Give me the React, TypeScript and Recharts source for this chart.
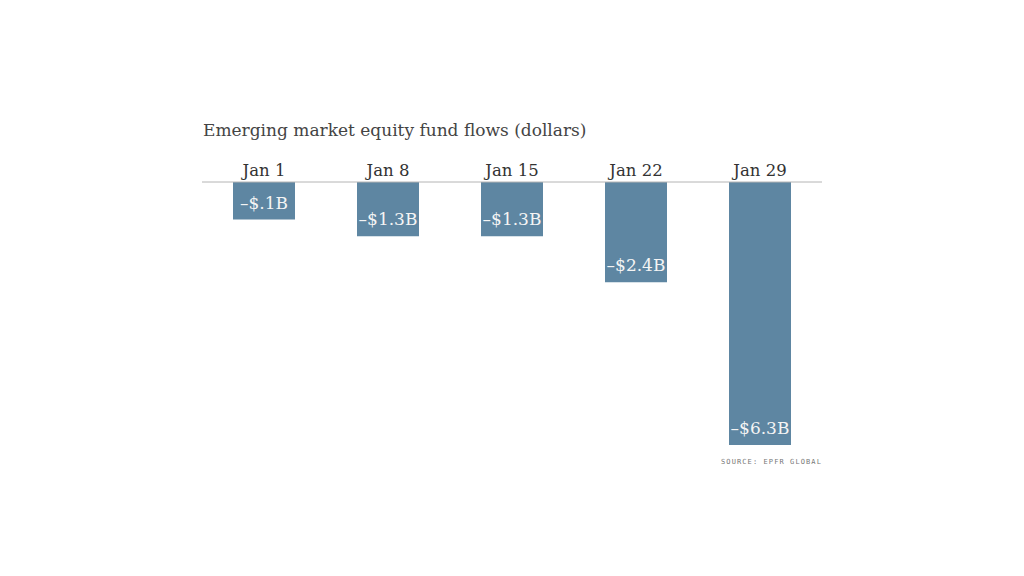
import { BarChart, Bar, XAxis, YAxis, LabelList } from 'recharts';

const WEEKS = ['Jan 1', 'Jan 8', 'Jan 15', 'Jan 22', 'Jan 29'];
// bar lengths as drawn (billions of dollars, outflows)
const FLOWS = [-0.9, -1.3, -1.3, -2.4, -6.3];
const FLOW_LABELS = ['–$.1B', '–$1.3B', '–$1.3B', '–$2.4B', '–$6.3B'];

const data = WEEKS.map((w, i) => ({ week: w, flow: FLOWS[i], label: FLOW_LABELS[i] }));

const SERIF = '"DejaVu Serif", serif';

const WeekTick = (props: any) => {
  const { x, y, payload } = props;
  return (
    <text x={x} y={y} dy={2} textAnchor="middle" fontFamily={SERIF} fontSize={16.5} fill="#333">
      {payload.value}
    </text>
  );
};

export default function App() {
  return (
    <div style={{ position: 'absolute', left: 0, top: 0, width: 1024, height: 576, background: '#fff' }}>
      <div
        style={{
          position: 'absolute',
          left: 203,
          top: 120,
          fontFamily: SERIF,
          fontSize: 17,
          color: '#444',
          whiteSpace: 'nowrap',
        }}
      >
        Emerging market equity fund flows (dollars)
      </div>
      <BarChart
        width={1024}
        height={576}
        data={data}
        margin={{ top: 152, right: 202, bottom: 131, left: 202 }}
        barCategoryGap="25%"
      >
        <XAxis
          dataKey="week"
          orientation="top"
          height={30}
          axisLine={{ stroke: '#b4b4b4' }}
          tickLine={false}
          tick={<WeekTick />}
          interval={0}
        />
        <YAxis hide domain={[-6.3, 0]} />
        <Bar dataKey="flow" fill="#5e86a2" isAnimationActive={false}>
          <LabelList
            dataKey="label"
            position="insideTop"
            offset={11}
            fill="#f4f4f4"
            fontFamily={SERIF}
            fontSize={17}
          />
        </Bar>
      </BarChart>
      <div
        style={{
          position: 'absolute',
          right: 1024 - 822,
          top: 458,
          fontFamily: '"DejaVu Sans Mono", monospace',
          fontSize: 7,
          letterSpacing: 1.1,
          color: '#777',
          whiteSpace: 'nowrap',
        }}
      >
        SOURCE: EPFR GLOBAL
      </div>
    </div>
  );
}
